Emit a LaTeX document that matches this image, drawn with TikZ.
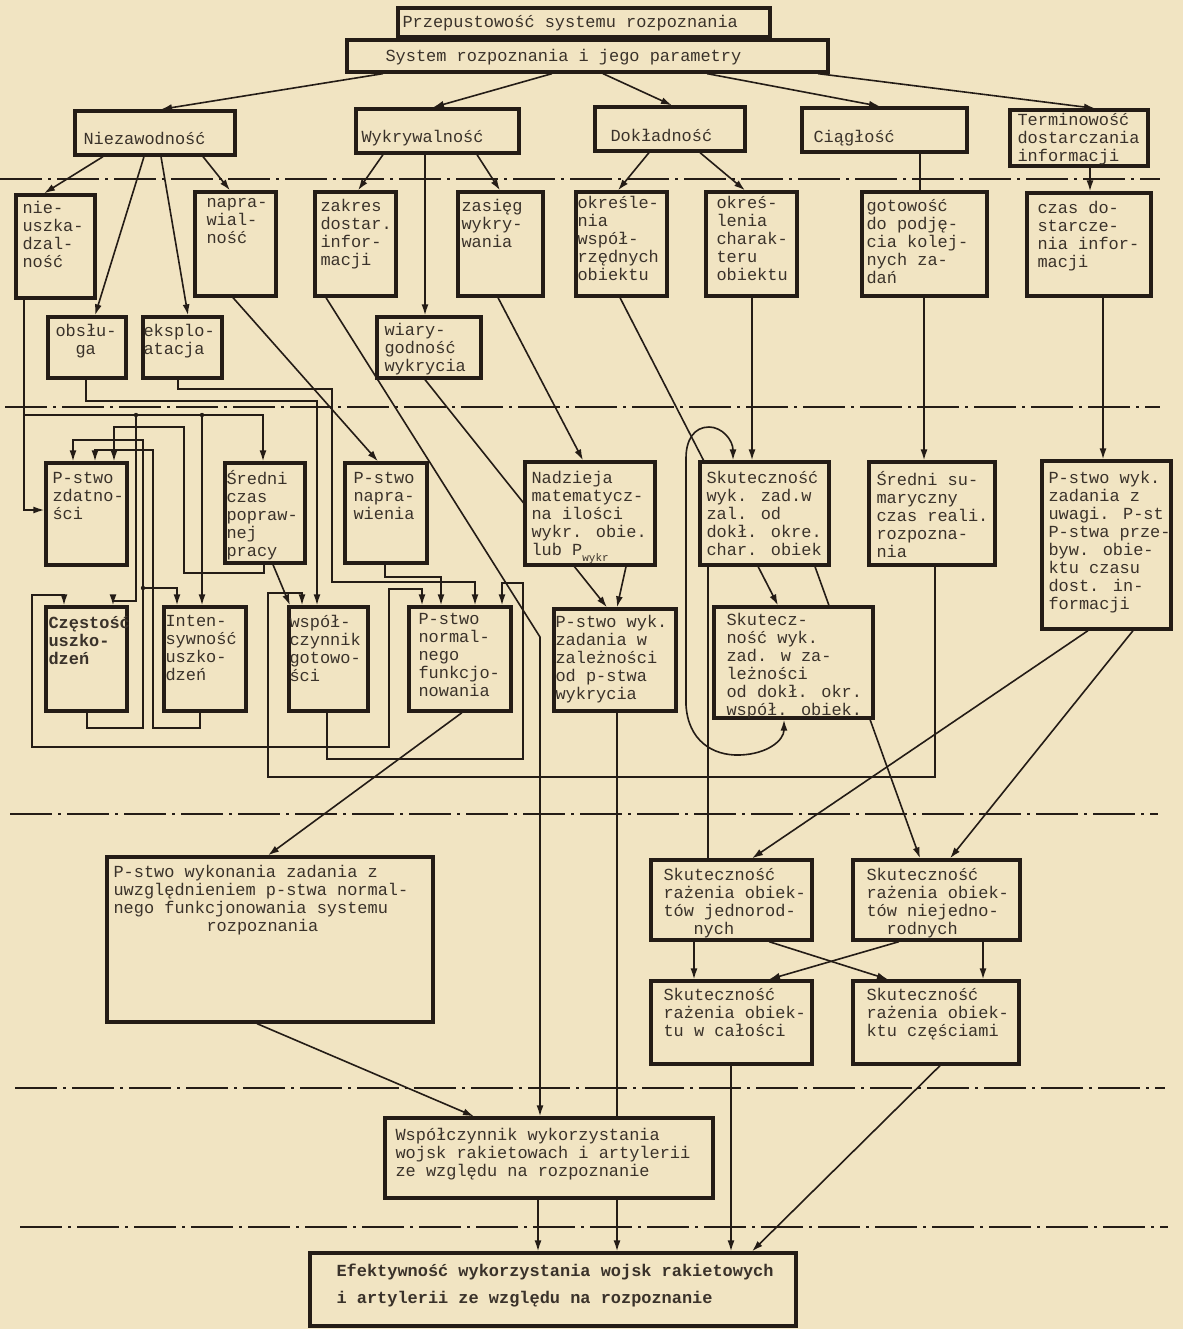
\documentclass[tikz,border=0pt]{standalone}
\usepackage{fontspec}
\newfontfamily\tw{Liberation Mono}
\usetikzlibrary{arrows.meta,calc,fit}
\definecolor{paperc}{RGB}{241,228,194}
\definecolor{ink}{RGB}{36,28,22}
\definecolor{tink}{RGB}{58,50,42}
\pgfdeclarelayer{paper}
\pgfdeclarelayer{wires}
\pgfsetlayers{paper,wires,main}
\tikzset{
 boxs/.style={draw=ink, fill=paperc, line width=3.3bp, inner sep=0pt},
 txt/.style={text=tink, font=\tw\fontsize{17}{18}\selectfont, align=left, inner sep=0pt, anchor=north west},
 w/.style={draw=ink, line width=1.6bp},
 a/.style={w, -{Latex[length=11bp,width=7bp]}},
 aa/.style={w, {Latex[length=11bp,width=7bp]}-{Latex[length=11bp,width=7bp]}},
 dd/.style={draw=ink, line width=2.4bp, dash pattern=on 42bp off 6bp on 3bp off 6bp},
}
\newcommand\diabox[8]{%
 \node[boxs, fit={(#2,#3) (#4,#5)}] (#1) {};
 \node[txt] (#1t) at ([shift={(#6,#7)}]#1.north west) {#8};}
\begin{document}
\begin{tikzpicture}[x=1bp,y=-1bp]
\begin{pgfonlayer}{paper}
\fill[paperc] (0,0) rectangle (1183,1329);
\end{pgfonlayer}
\useasboundingbox (0,0) rectangle (1183,1329);

% ---------- boxes ----------
\diabox{title}{398}{8}{770}{37}{6}{9}{Przepustowość systemu rozpoznania}
\diabox{sys}{347}{40}{828}{72}{40}{11}{System rozpoznania i jego parametry}
\diabox{niez}{75}{111}{235}{155}{10}{23}{Niezawodność}
\diabox{wykr}{356}{109}{519}{153}{7}{23}{Wykrywalność}
\diabox{dokl}{595}{107}{745}{151}{17}{24}{Dokładność}
\diabox{ciag}{802}{108}{967}{152}{13}{24}{Ciągłość}
\diabox{term}{1010}{110}{1148}{166}{9}{5}{Terminowość\\dostarczania\\informacji}

\diabox{nieusz}{16}{195}{95}{298}{8}{8}{nie-\\uszka-\\dzal-\\ność}
\diabox{napraw}{195}{192}{276}{296}{13}{8}{napra-\\wial-\\ność}
\diabox{zakres}{315}{192}{396}{296}{7}{9}{zakres\\dostar.\\infor-\\macji}
\diabox{zasieg}{458}{192}{543}{296}{5}{9}{zasięg\\wykry-\\wania}
\diabox{okrwsp}{576}{192}{667}{296}{3}{6}{określe-\\nia\\współ-\\rzędnych\\obiektu}
\diabox{okrchar}{706}{192}{797}{296}{12}{6}{okreś-\\lenia\\charak-\\teru\\obiektu}
\diabox{gotow}{862}{192}{987}{296}{6}{9}{gotowość\\do podję-\\cia kolej-\\nych za-\\dań}
\diabox{czas}{1027}{193}{1151}{296}{12}{10}{czas do-\\starcze-\\nia infor-\\macji}
\diabox{obsl}{48}{317}{126}{378}{9}{9}{obsłu-\\\hspace*{20bp}ga}
\diabox{eksp}{143}{317}{222}{378}{2}{9}{eksplo-\\atacja}
\diabox{wiar}{377}{317}{481}{378}{9}{8}{wiary-\\godność\\wykrycia}

\diabox{pzd}{46}{463}{127}{565}{8}{11}{P-stwo\\zdatno-\\ści}
\diabox{scp}{225}{463}{305}{563}{3}{9}{Średni\\czas\\popraw-\\nej\\pracy}
\diabox{pnap}{345}{463}{427}{563}{10}{11}{P-stwo\\napra-\\wienia}
\diabox{nadz}{525}{462}{655}{565}{8}{11}{Nadzieja\\matematycz-\\na ilości\\wykr. obie.\\lub P\raisebox{-6bp}{\fontsize{11}{11}\selectfont wykr}}
\diabox{skch}{700}{462}{829}{565}{8}{11}{Skuteczność\\wyk. zad.w\\zal. od\\dokł. okre.\\char. obiek}
\diabox{ssum}{869}{462}{995}{565}{9}{11}{Średni su-\\maryczny\\czas reali.\\rozpozna-\\nia}
\diabox{pwu}{1042}{461}{1171}{629}{8}{12}{P-stwo wyk.\\zadania z\\uwagi. P-st\\P-stwa prze-\\byw. obie-\\ktu czasu\\dost. in-\\formacji}

\diabox{czu}{46}{607}{127}{711}{4}{11}{\bfseries Częstość\\\bfseries uszko-\\\bfseries dzeń}
\diabox{int}{164}{607}{246}{711}{3}{10}{Inten-\\sywność\\uszko-\\dzeń}
\diabox{wsg}{289}{607}{368}{711}{2}{10}{współ-\\czynnik\\gotowo-\\ści}
\diabox{pnf}{409}{607}{511}{711}{11}{8}{P-stwo\\normal-\\nego\\funkcjo-\\nowania}
\diabox{pwz}{554}{609}{676}{711}{3}{8}{P-stwo wyk.\\zadania w\\zależności\\od p-stwa\\wykrycia}
\diabox{skw}{714}{607}{873}{718}{14}{8}{Skutecz-\\ność wyk.\\zad. w za-\\leżności\\od dokł. okr.\\współ. obiek.}

\diabox{pwuz}{107}{857}{433}{1022}{8}{10}{P-stwo wykonania zadania z\\uwzględnieniem p-stwa normal-\\nego funkcjonowania systemu\\\hspace*{93bp}rozpoznania}
\diabox{srj}{651}{860}{812}{940}{14}{10}{Skuteczność\\rażenia obiek-\\tów jednorod-\\\hspace*{30bp}nych}
\diabox{srn}{853}{860}{1020}{940}{15}{10}{Skuteczność\\rażenia obiek-\\tów niejedno-\\\hspace*{20bp}rodnych}
\diabox{sro}{651}{981}{812}{1064}{14}{9}{Skuteczność\\rażenia obiek-\\tu w całości}
\diabox{scz}{853}{981}{1019}{1064}{15}{9}{Skuteczność\\rażenia obiek-\\ktu częściami}
\diabox{wspol}{385}{1118}{713}{1198}{12}{12}{Współczynnik wykorzystania\\wojsk rakietowach i artylerii\\ze względu na rozpoznanie}
\diabox{efek}{310}{1253}{796}{1326}{28}{12}{\bfseries Efektywność wykorzystania wojsk rakietowych\\[9bp]\bfseries i artylerii ze względu na rozpoznanie}

% ---------- wires ----------
\begin{pgfonlayer}{wires}
% dash-dot level lines
\draw[dd] (0,179) -- (1160,179);
\draw[dd] (5,407) -- (1160,407);
\draw[dd] (10,814) -- (1158,814);
\draw[dd] (15,1088) -- (1165,1088);
\draw[dd] (20,1227) -- (1168,1227);

% top level
\draw[a] (sys.south -| 383,0) -- (niez.north -| 161,0);
\draw[a] (sys.south -| 552,0) -- (wykr.north -| 433,0);
\draw[a] (sys.south -| 603,0) -- (dokl.north -| 672,0);
\draw[a] (sys.south -| 707,0) -- (ciag.north -| 880,0);
\draw[a] (sys.south -| 818,0) -- (term.north -| 1095,0);

% from Niezawodnosc
\draw[a] (niez.south -| 103,0) -- (nieusz.north -| 44,0);
\draw[a] (niez.south -| 144,0) -- (obsl.north -| 95,0);
\draw[a] (niez.south -| 161,0) -- (eksp.north -| 188,0);
\draw[a] (niez.south -| 203,0) -- (napraw.north -| 230,0);
% from Wykrywalnosc
\draw[a] (wykr.south -| 383,0) -- (zakres.north -| 358,0);
\draw[a] (wykr.south -| 425,0) -- (wiar.north -| 425,0);
\draw[a] (wykr.south -| 477,0) -- (zasieg.north -| 500,0);
% from Dokladnosc
\draw[a] (dokl.south -| 649,0) -- (okrwsp.north -| 618,0);
\draw[a] (dokl.south -| 700,0) -- (okrchar.north -| 745,0);
% Ciaglosc, Terminowosc
\draw[w] (ciag.south -| 920,0) -- (gotow.north -| 920,0);
\draw[a] (term.south -| 1090,0) -- (czas.north -| 1090,0);

% junctions
\coordinate (jA) at (24,415);
\coordinate (jB) at (136,415);
\coordinate (jC) at (202,415);
\coordinate (jD) at (143,588);

% left wiring
\draw[a] (nieusz.south -| 24,0) |- (pzd.west |- 0,510);
\draw[a] (jA) -| (scp.north -| 263,0);
\draw[a] (jB) |- (113,601) -- (czu.north -| 113,0);
\draw[a] (jC) -- (int.north -| 202,0);
\draw[a] (obsl.south -| 86,0) |- (317,401) -- (wsg.north -| 317,0);
\draw[a] (eksp.south -| 178,0) |- (332,389) |- (475,582) -- (pnf.north -| 475,0);
\draw[a] (napraw.south -| 233,0) -- (pnap.north -| 378,0);
\draw[a] (pnap.south -| 385,0) |- (441,577) -- (pnf.north -| 441,0);
\draw[a] (scp.south -| 264,0) |- (184,573) |- (114,427) -- (pzd.north -| 114,0);
\draw[a] (scp.south -| 273,0) -- (wsg.north -| 290,0);
\draw[a] (czu.south -| 87,0) |- (143,728) |- (73,440) -- (pzd.north -| 73,0);
\draw[a] (jD) -| (int.north -| 177,0);
\draw[a] (int.south -| 200,0) |- (153,728) |- (95,450) -- (pzd.north -| 95,0);
\draw[aa] (czu.north -| 64,0) -- (64,595) -| (32,747) -| (389,589) -| (pnf.north -| 422,0);
\draw[a] (wsg.south -| 327,0) |- (523,759) |- (502,583) -- (pnf.north -| 502,0);
\draw[a] (ssum.south -| 935,0) |- (268,777) |- (302,593) -- (wsg.north -| 302,0);
\fill[ink] (jB) circle[radius=2.2bp];
\fill[ink] (jC) circle[radius=2.2bp];
\fill[ink] (jD) circle[radius=2.2bp];

% middle diagonals
\draw[a] (zakres.south -| 326,0) -- (540,637) -- (wspol.north -| 540,0);
\draw[a] (wiar.south -| 425,0) -- (pwz.north -| 607,0);
\draw[a] (zasieg.south -| 498,0) -- (nadz.north -| 583,0);
\draw[a] (nadz.south -| 626,0) -- (pwz.north -| 617,0);
\draw[a] (okrwsp.south -| 620,0) -- (skw.north -| 778,0);
\draw[a] (okrchar.south -| 752,0) -- (skch.north -| 752,0);
\draw[aa] (skch.north -| 733,0) .. controls (733,440) and (722,427) .. (709,427)
  .. controls (694,427) and (686,440) .. (686,458) -- (686,705)
  .. controls (688,740) and (712,756) .. (740,755)
  .. controls (768,754) and (784,740) .. (skw.south -| 784,0);
\draw[a] (gotow.south -| 924,0) -- (ssum.north -| 924,0);
\draw[a] (czas.south -| 1103,0) -- (pwu.north -| 1103,0);

% lower part
\draw[a] (pnf.south -| 462,0) -- (pwuz.north -| 268,0);
\draw[a] (pwz.south -| 617,0) -- (efek.north -| 617,0);
\draw[w] (skch.south -| 708,0) -- (srj.north -| 708,0);
\draw[a] (skch.south -| 815,0) -- (srn.north -| 920,0);
\draw[a] (pwu.south -| 1088,0) -- (srj.north -| 752,0);
\draw[a] (pwu.south -| 1133,0) -- (srn.north -| 950,0);
\draw[a] (srj.south -| 694,0) -- (sro.north -| 694,0);
\draw[a] (srj.south -| 769,0) -- (scz.north -| 888,0);
\draw[a] (srn.south -| 899,0) -- (sro.north -| 769,0);
\draw[a] (srn.south -| 983,0) -- (scz.north -| 983,0);
\draw[a] (sro.south -| 731,0) -- (efek.north -| 731,0);
\draw[a] (scz.south -| 940,0) -- (efek.north -| 752,0);
\draw[a] (pwuz.south -| 257,0) -- (wspol.north -| 474,0);
\draw[a] (wspol.south -| 538,0) -- (efek.north -| 538,0);
\end{pgfonlayer}
\end{tikzpicture}
\end{document}
